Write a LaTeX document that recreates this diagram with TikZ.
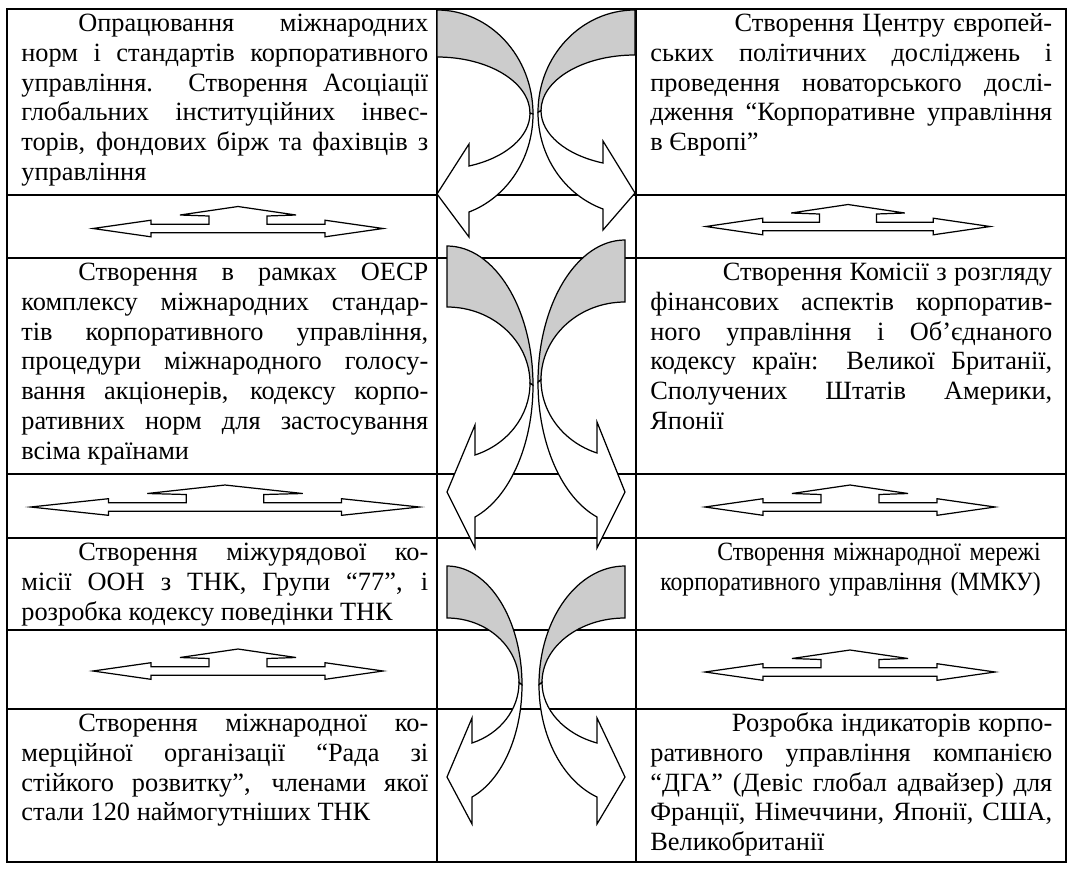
\documentclass[tikz,border=0pt]{standalone}
\usepackage{fontspec}
\setmainfont{Liberation Serif}
\newfontfamily\narrowserif[FakeStretch=0.9]{Liberation Serif}
\setlength{\parindent}{0pt}
\newcommand\parstart[1][1.14cm]{\strut\hspace*{#1}}
\tikzset{
  cell/.style={anchor=north west, inner sep=0pt, align=justify, font=\fontsize{15pt}{17pt}\selectfont},
  leftcell/.style={cell, text width=8.14cm},
  rightcell/.style={cell, text width=8.04cm},
  rule/.style={line width=0.75pt},
  backband/.style={draw, fill=black!20, line width=0.7pt},
  frontband/.style={draw, fill=white, line width=0.7pt},
  twoway/.style={draw, fill=white, line width=0.7pt}
}

\begin{document}
\begin{tikzpicture}[x=0.02cm, y=-0.02cm]
    \useasboundingbox (0,0) rectangle (1069,870);
    \draw[rule] (7,9) rectangle (1066,862);
    \foreach \x in {437,636}{
        \draw[rule] (\x,9) -- (\x,862);
    }
    \foreach \y in {195,258,474,538,630,709}{
        \draw[rule] (7,\y) -- (1066,\y);
    }
    \foreach \xb/\dir/\rx/\hx/\ytop/\band/\ytip/\barba/\shafta/\shaftb/\barbb in {
        437/1/96/32/10/47/194/144/166/212/237,
        635/-1/97/32/10/45/193/141/163/209/230,
        447/1/86/28/246/61/492/425/455/517/548,
        625/-1/87/28/240/62/492/422/453/517/548,
        447/1/75/25/566/52/777/718/743/797/824,
        625/-1/86/28/566/52/777/718/743/797/824}{
        \pgfmathsetmacro{\rxb}{\rx-3}
        \pgfmathsetmacro{\phia}{acos(\hx/\rx)}
        \pgfmathsetmacro{\phib}{acos(\hx/\rxb)}
        \pgfmathsetmacro{\rya}{(\shaftb-\ytop)/(1+sin(\phia))}
        \pgfmathsetmacro{\ryb}{(\shafta-\ytop-\band)/(1+sin(\phib))}
        \pgfmathsetmacro{\cya}{\ytop+\rya}
        \pgfmathsetmacro{\cyb}{\ytop+\band+\ryb}
        \begin{scope}[shift={(\xb,0)}, xscale=\dir]
            \draw[backband] (0,\ytop) arc[start angle=-90, end angle=0, x radius=\rx, y radius=\rya]
                -- (\rxb,\cyb) arc[start angle=0, end angle=-90, x radius=\rxb, y radius=\ryb] -- cycle;
            \draw[frontband] (\rxb,\cyb) arc[start angle=0, end angle=\phib, x radius=\rxb, y radius=\ryb]
                -- (\hx,\barba) -- (0,\ytip) -- (\hx,\barbb) -- (\hx,\shaftb)
                arc[start angle=\phia, end angle=0, x radius=\rx, y radius=\rya] -- cycle;
        \end{scope}
    }
    \foreach \cx/\cy/\sx in {238/228.5/1, 848/226.5/0.98, 225/507/1.34, 850/507/1, 238/671/1, 850/672/1}{
        \draw[twoway, shift={(\cx,\cy)}, xscale=\sx] (-145,0) -- (-87,-8.3) -- (-87,-4.2) -- (-29,-4.2)
            -- (-29,-12.5) -- (-58,-13.5) -- (0,-22) -- (58,-13.5) -- (29,-12.5) -- (29,-4.2)
            -- (87,-4.2) -- (87,-8.3) -- (145,0) -- (87,8.3) -- (87,4.2) -- (-87,4.2) -- (-87,8.3) -- cycle;
    }
    \node[leftcell] (opr) at (21,10) {\parstart Опрацювання міжнародних\linebreak
        норм і стандартів корпоративного\linebreak управління. Створення Асоціації\linebreak
        глобальних інституційних інвес-\linebreak торів, фондових бірж та фахівців з\linebreak управління};
    \node[rightcell] (centr) at (650,10) {\parstart[1.52cm] Створення Центру європей-\linebreak
        ських політичних досліджень і\linebreak проведення новаторського дослі-\linebreak
        дження “Корпоративне управління\linebreak в Європі”};
    \node[leftcell] (oecd) at (21,259) {\parstart Створення в рамках ОЕСР\linebreak
        комплексу міжнародних стандар-\linebreak тів корпоративного управління,\linebreak
        процедури міжнародного голосу-\linebreak вання акціонерів, кодексу корпо-\linebreak
        ративних норм для застосування\linebreak всіма країнами};
    \node[rightcell] (komis) at (650,259) {\parstart[1.3cm] Створення Комісії з розгляду\linebreak
        фінансових аспектів корпоратив-\linebreak ного управління і Об’єднаного\linebreak
        кодексу країн: Великої Британії,\linebreak Сполучених Штатів Америки,\linebreak Японії};
    \node[leftcell] (oon) at (21,539) {\parstart Створення міжурядової ко-\linebreak
        місії ООН з ТНК, Групи “77”, і\linebreak розробка кодексу поведінки ТНК};
    \node[cell, anchor=north east, text width=7.9cm, align=right,
        font=\narrowserif\fontsize{15pt}{17pt}\selectfont] (mmku) at (1041,539)
        {\strut Створення міжнародної мережі\\ корпоративного управління (ММКУ)};
    \node[leftcell] (rada) at (21,710) {\parstart Створення міжнародної ко-\linebreak
        мерційної організації “Рада зі\linebreak стійкого розвитку”, членами якої\linebreak
        стали 120 наймогутніших ТНК};
    \node[rightcell] (dga) at (650,710) {\parstart[1.48cm] Розробка індикаторів корпо-\linebreak
        ративного управління компанією\linebreak “ДГА” (Девіс глобал адвайзер) для\linebreak
        Франції, Німеччини, Японії, США,\linebreak Великобританії};
\end{tikzpicture}
\end{document}
